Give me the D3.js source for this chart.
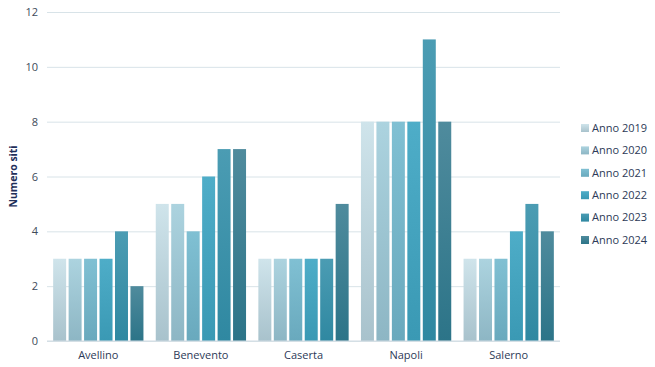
<!DOCTYPE html>
<html>
<head>
<meta charset="utf-8">
<script src="https://cdn.jsdelivr.net/npm/d3@7"></script>
<style>
  body { margin: 0; background: #fff; }
  svg text { font-family: "Open Sans", sans-serif; }
</style>
</head>
<body>
<div id="chart"></div>
<script>
const provinces = ["Avellino", "Benevento", "Caserta", "Napoli", "Salerno"];
const years = ["Anno 2019", "Anno 2020", "Anno 2021", "Anno 2022", "Anno 2023", "Anno 2024"];
const values = [
  [3, 3, 3, 3, 4, 2],
  [5, 5, 4, 6, 7, 7],
  [3, 3, 3, 3, 3, 5],
  [8, 8, 8, 8, 11, 8],
  [3, 3, 3, 4, 5, 4]
];
const yTicks = [0, 2, 4, 6, 8, 10, 12];
// top / bottom colour of each year's gradient
const colorsTop = ["#cfe4eb", "#acd3df", "#80c0d3", "#4eadc8", "#4b9cb3", "#4f8b9d"];
const colorsBottom = ["#a8c2cc", "#8db6c4", "#69a9bd", "#3a99b4", "#2f88a1", "#2c7488"];

const width = 655, height = 367;
const margin = { top: 12, right: 95, bottom: 26, left: 47 };

const svg = d3.select("#chart").append("svg")
  .attr("width", width)
  .attr("height", height);

const defs = svg.append("defs");
years.forEach((y, i) => {
  const g = defs.append("linearGradient")
    .attr("id", "grad" + i)
    .attr("x1", 0).attr("y1", 0).attr("x2", 0).attr("y2", 1);
  g.append("stop").attr("offset", "0%").attr("stop-color", colorsTop[i]);
  g.append("stop").attr("offset", "100%").attr("stop-color", colorsBottom[i]);
});

const x0 = d3.scaleBand()
  .domain(provinces)
  .range([margin.left, width - margin.right])
  .paddingInner(0.12)
  .paddingOuter(0.06);

const x1 = d3.scaleBand()
  .domain(years)
  .range([0, x0.bandwidth()])
  .padding(0.16)
  .paddingOuter(0);

const yScale = d3.scaleLinear()
  .domain([0, 12])
  .range([height - margin.bottom, margin.top]);

// gridlines + labels
const yAxis = d3.axisLeft(yScale)
  .tickValues(yTicks)
  .tickSize(-(width - margin.right - margin.left))
  .tickPadding(9);

const gy = svg.append("g")
  .attr("transform", "translate(" + margin.left + ",0)")
  .call(yAxis);
gy.select(".domain").remove();
gy.selectAll(".tick line").attr("stroke", "#d8e3e8");
gy.selectAll(".tick text").attr("fill", "#404b5a").attr("font-size", 11);

// bars
const groups = svg.append("g").selectAll("g")
  .data(provinces)
  .join("g")
  .attr("transform", d => "translate(" + x0(d) + ",0)");

groups.selectAll("rect")
  .data((d, i) => values[i].map((v, j) => ({ year: years[j], v: v, j: j })))
  .join("rect")
  .attr("x", d => x1(d.year))
  .attr("width", x1.bandwidth())
  .attr("y", d => yScale(d.v))
  .attr("height", d => yScale(0) - yScale(d.v))
  .attr("fill", d => "url(#grad" + d.j + ")");

// baseline
svg.append("line")
  .attr("x1", margin.left).attr("x2", width - margin.right)
  .attr("y1", yScale(0)).attr("y2", yScale(0))
  .attr("stroke", "#d0dbe2");

// x axis labels
const xAxis = d3.axisBottom(x0).tickSize(0).tickPadding(10);
const gx = svg.append("g")
  .attr("transform", "translate(0," + yScale(0) + ")")
  .call(xAxis);
gx.select(".domain").remove();
gx.selectAll(".tick text").attr("fill", "#2d3a57").attr("font-size", 11);

// y axis title
svg.append("text")
  .attr("transform", "translate(17," + ((margin.top + height - margin.bottom) / 2) + ") rotate(-90)")
  .attr("text-anchor", "middle")
  .attr("font-size", 10.5)
  .attr("font-weight", "bold")
  .attr("fill", "#1f2f5a")
  .text("Numero siti");

// legend
const legend = svg.append("g").attr("transform", "translate(581,128)");
const items = legend.selectAll("g")
  .data(years)
  .join("g")
  .attr("transform", (d, i) => "translate(0," + i * 22.4 + ")");
items.append("rect")
  .attr("x", 0).attr("y", -4)
  .attr("width", 8).attr("height", 8)
  .attr("fill", (d, i) => "url(#grad" + i + ")");
items.append("text")
  .attr("x", 11).attr("y", 0)
  .attr("dy", "0.35em")
  .attr("font-size", 11)
  .attr("fill", "#2d3a57")
  .text(d => d);
</script>
</body>
</html>
